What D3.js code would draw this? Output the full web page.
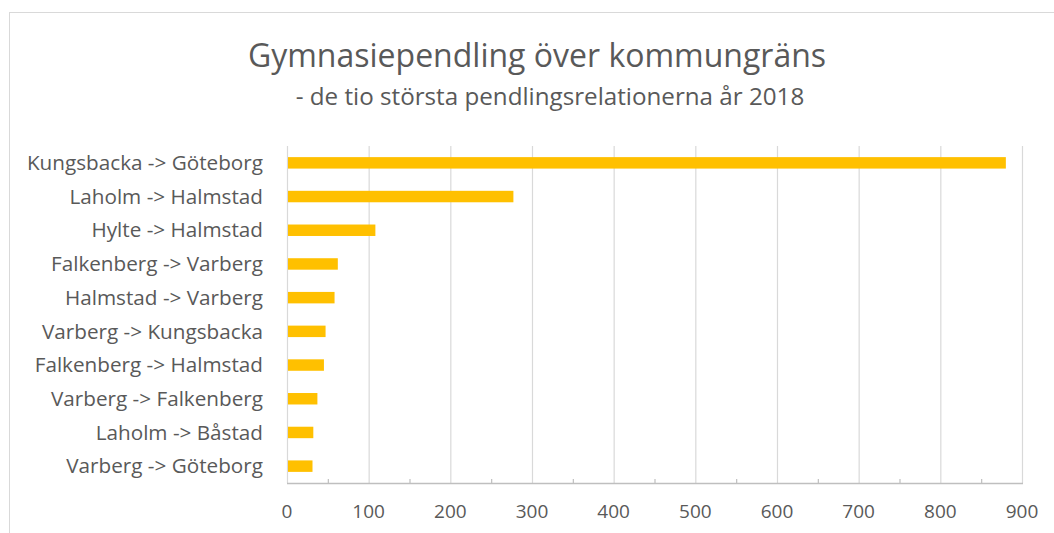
<!DOCTYPE html>
<html>
<head>
<meta charset="utf-8">
<script src="https://cdn.jsdelivr.net/npm/d3@7"></script>
<style>
  body { margin: 0; background: #fff; }
  text { font-family: "Open Sans", "Noto Sans", sans-serif; fill: #595959; }
</style>
</head>
<body>
<script>
// data
var routes = ["Kungsbacka -> Göteborg", "Laholm -> Halmstad", "Hylte -> Halmstad",
              "Falkenberg -> Varberg", "Halmstad -> Varberg", "Varberg -> Kungsbacka",
              "Falkenberg -> Halmstad", "Varberg -> Falkenberg", "Laholm -> Båstad",
              "Varberg -> Göteborg"];
var pupils = [879, 276, 107, 61, 57, 46, 44, 36, 31, 30];
var xTicks = [0, 100, 200, 300, 400, 500, 600, 700, 800, 900];
var minorTicks = [50, 150, 250, 350, 450, 550, 650, 750, 850];

var title = "Gymnasiependling över kommungräns";
var subtitle = "- de tio största pendlingsrelationerna år 2018";

var W = 1054, H = 533;
var margin = {top: 146, right: 32, bottom: 50, left: 287},
    width = W - margin.left - margin.right,
    height = H - margin.top - margin.bottom;

var svg = d3.select("body").append("svg")
    .attr("width", W)
    .attr("height", H);

// chart frame
svg.append("rect")
    .attr("x", 9.5)
    .attr("y", 12.5)
    .attr("width", W)
    .attr("height", H)
    .style("fill", "none")
    .style("stroke", "#d9d9d9");

svg.append("text")
    .attr("x", 537)
    .attr("y", 67)
    .attr("text-anchor", "middle")
    .style("font-size", "32px")
    .text(title);

svg.append("text")
    .attr("x", 550)
    .attr("y", 105)
    .attr("text-anchor", "middle")
    .style("font-size", "24.2px")
    .text(subtitle);

var x = d3.scaleLinear()
    .domain([0, 900])
    .range([0, width]);

var y = d3.scaleBand()
    .domain(routes)
    .range([0, height])
    .paddingInner(0.66)
    .paddingOuter(0.33);

var g = svg.append("g")
    .attr("transform", "translate(" + margin.left + "," + margin.top + ")");

// gridlines
g.selectAll(".grid")
    .data(xTicks)
    .enter().append("line")
    .attr("class", "grid")
    .attr("x1", d => x(d) + 0.5)
    .attr("x2", d => x(d) + 0.5)
    .attr("y1", 0)
    .attr("y2", height)
    .style("stroke", "#d9d9d9")
    .style("stroke-width", 1.2);

// minor ticks (pointing up into the plot)
g.selectAll(".minor")
    .data(minorTicks)
    .enter().append("line")
    .attr("class", "minor")
    .attr("x1", d => x(d) + 0.5)
    .attr("x2", d => x(d) + 0.5)
    .attr("y1", height - 4)
    .attr("y2", height)
    .style("stroke", "#bfbfbf")
    .style("stroke-width", 1.2);

// bars
g.selectAll(".bar")
    .data(pupils)
    .enter().append("rect")
    .attr("class", "bar")
    .attr("x", x(0) + 1)
    .attr("y", (d, i) => y(routes[i]))
    .attr("width", d => x(d) - x(0))
    .attr("height", y.bandwidth())
    .style("fill", "#ffc000");

// x axis line
g.append("line")
    .attr("x1", x(0))
    .attr("x2", x(900) + 1)
    .attr("y1", height + 0.5)
    .attr("y2", height + 0.5)
    .style("stroke", "#bfbfbf")
    .style("stroke-width", 1.5);

// x tick labels
g.selectAll(".xlab")
    .data(xTicks)
    .enter().append("text")
    .attr("class", "xlab")
    .attr("x", d => x(d))
    .attr("y", height + 35)
    .attr("text-anchor", "middle")
    .style("font-size", "19px")
    .text(d => d);

// category labels
g.selectAll(".ylab")
    .data(routes)
    .enter().append("text")
    .attr("class", "ylab")
    .attr("x", -24)
    .attr("y", d => y(d) + y.bandwidth() / 2)
    .attr("dy", "0.35em")
    .attr("text-anchor", "end")
    .style("font-size", "20.7px")
    .text(d => d);
</script>
</body>
</html>
